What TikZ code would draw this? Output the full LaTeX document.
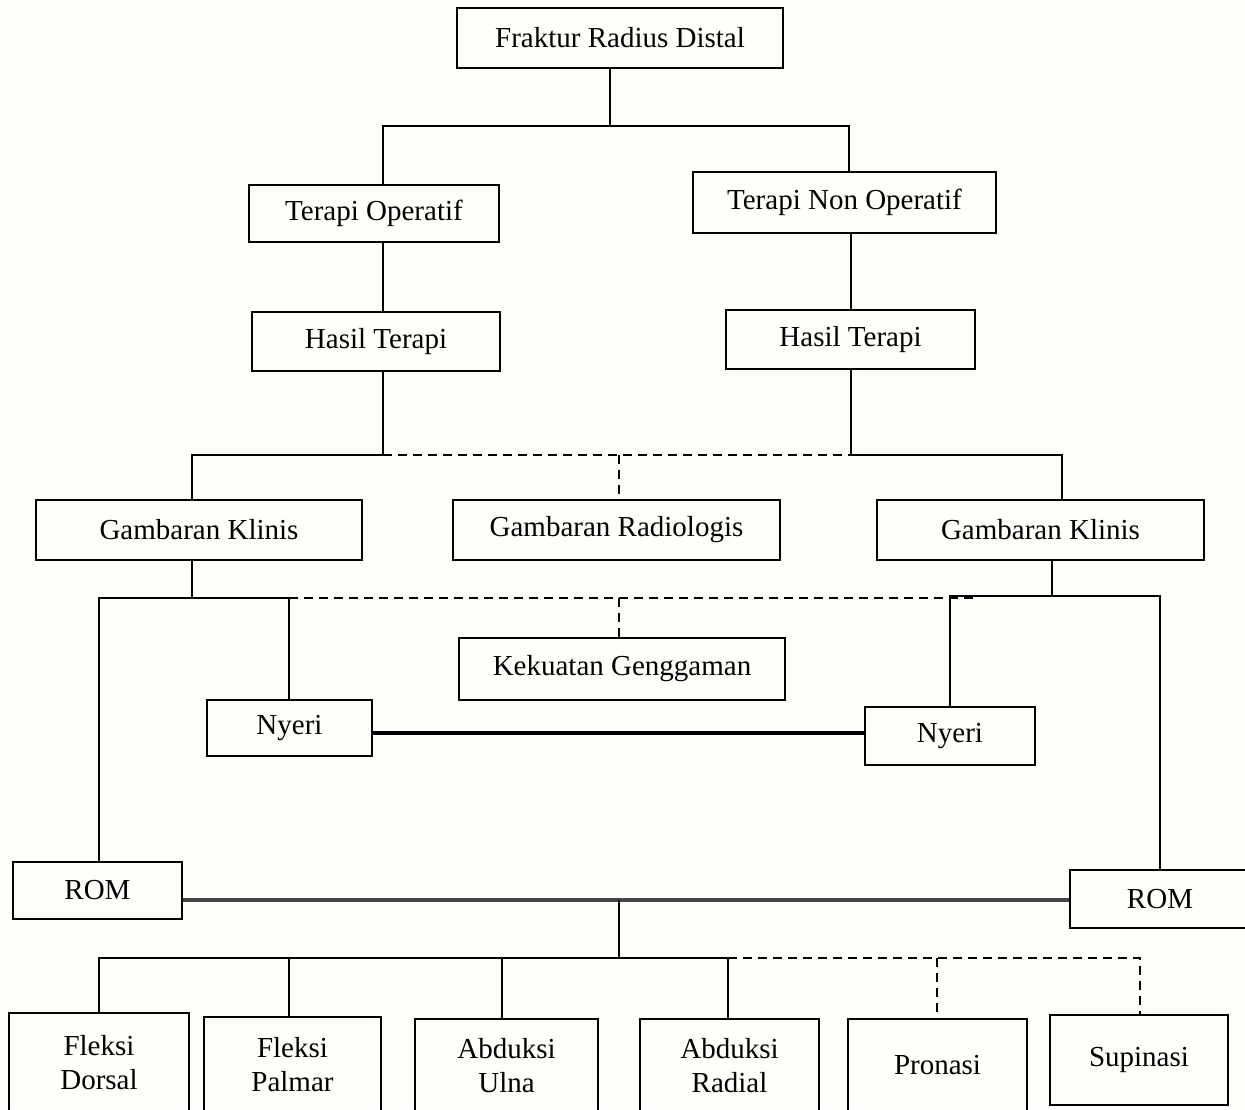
\documentclass[tikz,border=0pt]{standalone}
\usepackage{fontspec}
\setmainfont{Liberation Serif}
\usetikzlibrary{calc}
\newcommand\boxfont{\fontsize{29}{34}\selectfont}
\definecolor{bgc}{RGB}{254,254,250}
\definecolor{romline}{RGB}{70,70,70}
\begin{document}
\begin{tikzpicture}[x=1pt,y=-1pt,
  box/.style={draw, line width=1.2pt, rectangle, inner sep=0pt, align=center, font=\boxfont},
  ln/.style={line width=2pt},
  dsh/.style={line width=1.8pt, dash pattern=on 9pt off 6pt},
  thk/.style={line width=4pt},
  romthk/.style={line width=4.5pt, draw=romline}]
\fill[bgc] (0,0) rectangle (1245,1109);
\useasboundingbox (0,0) rectangle (1245,1109);
\clip (0,0) rectangle (1245,1109);
% boxes
\node[box, minimum width=326, minimum height=60] (fr) at (620,38) {Fraktur Radius Distal};
\node[box, minimum width=250, minimum height=57] (to) at (374,213.5) {Terapi Operatif};
\node[box, minimum width=303, minimum height=61] (tno) at (844.5,202.5) {Terapi Non Operatif};
\node[box, minimum width=248, minimum height=59] (hl) at (376,341.5) {Hasil Terapi};
\node[box, minimum width=249, minimum height=59] (hr) at (850.5,339.5) {Hasil Terapi};
\node[box, minimum width=326, minimum height=60] (gkl) at (199,530) {Gambaran Klinis};
\node[box, minimum width=327, minimum height=60] (gr) at (616.5,530) {Gambaran Radiologis};
\node[box, minimum width=327, minimum height=60] (gkr) at (1040.5,530) {Gambaran Klinis};
\node[box, minimum width=326, minimum height=62] (kg) at (622,669) {Kekuatan Genggaman};
\node[box, minimum width=165, minimum height=56] (nl) at (289.5,728) {Nyeri};
\node[box, minimum width=170, minimum height=58] (nr) at (950,736) {Nyeri};
\node[box, minimum width=169, minimum height=57] (roml) at (97.5,890.5) {ROM};
\node[box, minimum width=180, minimum height=58] (romr) at (1160,899) {ROM};
\node[box, minimum width=180, minimum height=99] (fd) at (99,1062.5) {Fleksi\\Dorsal};
\node[box, minimum width=177, minimum height=95] (fp) at (292.5,1064.5) {Fleksi\\Palmar};
\node[box, minimum width=183, minimum height=93] (au) at (506.5,1065.5) {Abduksi\\Ulna};
\node[box, minimum width=179, minimum height=93] (ar) at (729.5,1065.5) {Abduksi\\Radial};
\node[box, minimum width=179, minimum height=93] (pr) at (937.5,1065.5) {Pronasi};
\node[box, minimum width=178, minimum height=90] (su) at (1139,1060) {Supinasi};
% junction coordinates
\coordinate (j1) at (610,126);
\coordinate (a1) at (383,126);
\coordinate (a2) at (849,126);
\coordinate (b1) at (851,455);
\coordinate (c0) at (192,455);
\coordinate (c1) at (383,455);
\coordinate (c2) at (1062,455);
\coordinate (c3) at (619,455);
\coordinate (d0) at (192,598);
\coordinate (d1) at (99,598);
\coordinate (d2) at (289,598);
\coordinate (d3) at (619,598);
\coordinate (d4) at (975,598);
\coordinate (e0) at (1052,596);
\coordinate (e1) at (950,596);
\coordinate (e2) at (1160,596);
\coordinate (t1) at (619,733);
\coordinate (r0) at (619,900);
\coordinate (f0) at (619,958);
\coordinate (f1) at (99,958);
\coordinate (f2) at (289,958);
\coordinate (f3) at (502,958);
\coordinate (f4) at (728,958);
\coordinate (f5) at (937,958);
\coordinate (f6) at (1140,958);
% connectors
\draw[ln] (fr.south -| j1) -- (j1);
\draw[ln] (to.north -| a1) -- (a1) -- (a2) -- (tno.north -| a2);
\draw[ln] (to.south -| a1) -- (hl.north -| a1);
\draw[ln] (tno.south -| b1) -- (hr.north -| b1);
\draw[ln] (hl.south -| c1) -- (c1) -- (c0) -- (gkl.north -| c0);
\draw[dsh] (c1) -- (b1);
\draw[dsh] (c3) -- (gr.north -| c3);
\draw[ln] (hr.south -| b1) -- (b1) -- (c2) -- (gkr.north -| c2);
\draw[ln] (gkl.south -| d0) -- (d0);
\draw[ln] (roml.north -| d1) -- (d1) -- (d2) -- (nl.north -| d2);
\draw[dsh] (d2) -- (d4);
\draw[dsh] (d3) -- (kg.north -| d3);
\draw[ln] (gkr.south -| e0) -- (e0);
\draw[ln] (nr.north -| e1) -- (e1) -- (e2) -- (romr.north -| e2);
\draw[thk] (nl.east |- t1) -- (nr.west |- t1);
\draw[romthk] (roml.east |- r0) -- (romr.west |- r0);
\draw[ln] (r0) -- (f0);
\draw[ln] (fd.north -| f1) -- (f1) -- (f4) -- (ar.north -| f4);
\draw[ln] (f2) -- (fp.north -| f2);
\draw[ln] (f3) -- (au.north -| f3);
\draw[dsh] (f4) -- (f6) -- (su.north -| f6);
\draw[dsh] (f5) -- (pr.north -| f5);
\end{tikzpicture}
\end{document}
